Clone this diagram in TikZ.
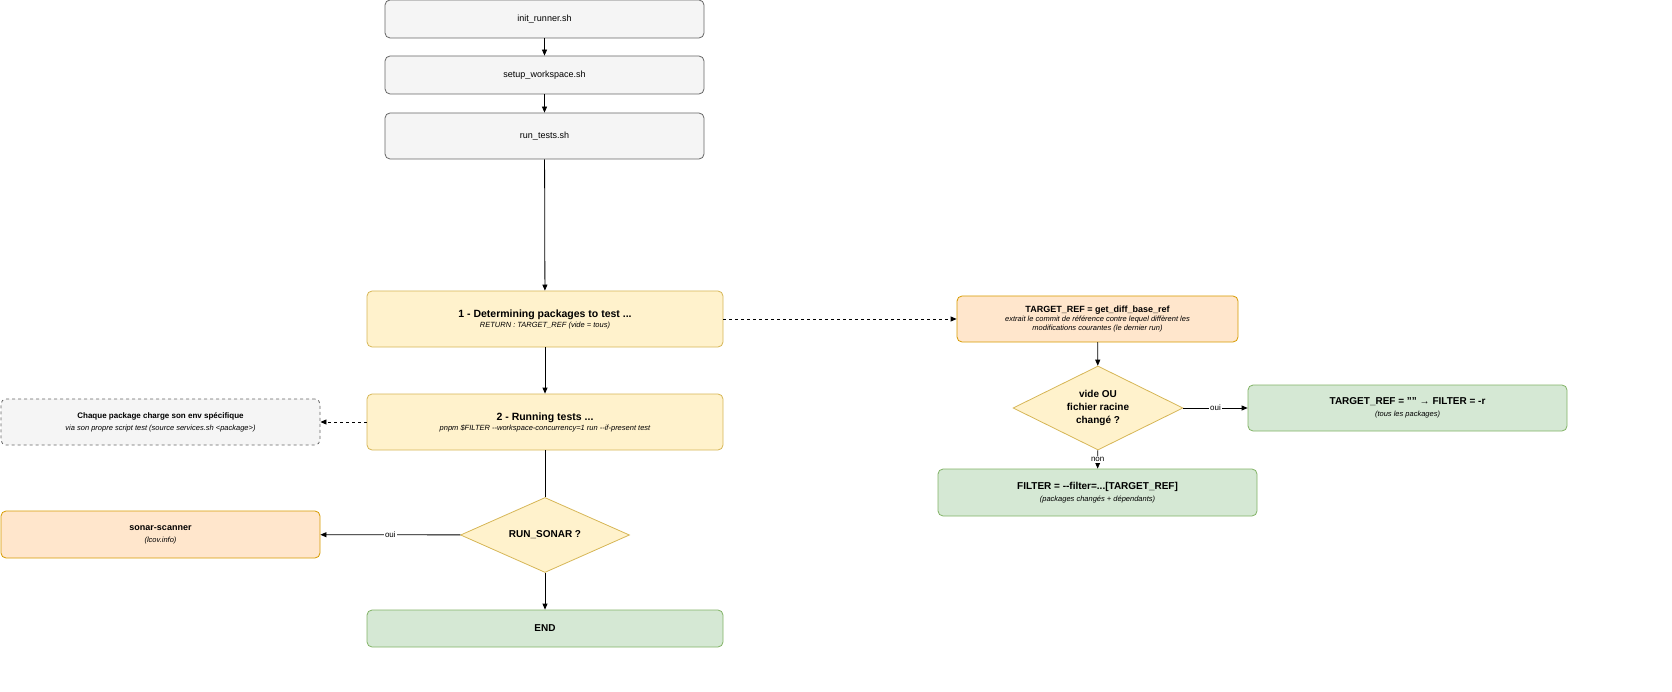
\documentclass[tikz,border=0pt]{standalone}
\usepackage{fontspec}
\setmainfont{Liberation Sans}
\usetikzlibrary{shapes.geometric,arrows.meta}
\definecolor{gF}{HTML}{F5F5F5}\definecolor{gS}{HTML}{666666}
\definecolor{yF}{HTML}{FFF2CC}\definecolor{yS}{HTML}{D6B656}
\definecolor{oF}{HTML}{FFE6CC}\definecolor{oS}{HTML}{D79B00}
\definecolor{nF}{HTML}{D5E8D4}\definecolor{nS}{HTML}{82B366}
\begin{document}
\begin{tikzpicture}[x=1pt,y=-1pt,
 box/.style={rounded corners=5pt,draw,line width=0.8pt,align=center,inner sep=0pt,font=\fontsize{9}{11}\selectfont},
 gray/.style={box,fill=gF,draw=gS},
 yel/.style={box,fill=yF,draw=yS},
 ora/.style={box,fill=oF,draw=oS},
 grn/.style={box,fill=nF,draw=nS},
 dia/.style={diamond,draw=yS,fill=yF,line width=0.8pt,aspect=2,inner sep=0pt,align=center,font=\bfseries\fontsize{10}{13}\selectfont},
 arr/.style={-{Triangle[length=6pt,width=5pt]},line width=0.8pt},
 lbl/.style={fill=white,inner sep=1pt,font=\fontsize{8}{9}\selectfont}]
\useasboundingbox (0,0) rectangle (1672,692);
\node[gray,minimum width=319pt,minimum height=38pt] (init) at (544.5,19) {init\_runner.sh};
\node[gray,minimum width=319pt,minimum height=38pt] (setup) at (544.5,75) {setup\_workspace.sh};
\node[gray,minimum width=319pt,minimum height=46pt] (tests) at (544.5,136) {run\_tests.sh};
\node[yel,minimum width=356pt,minimum height=56pt] (det) at (545,319) {{\bfseries\fontsize{10.5}{13}\selectfont 1 - Determining packages to test ...}\\[-1pt]{\itshape\fontsize{7.5}{12}\selectfont RETURN : TARGET\_REF (vide = tous)}};
\node[ora,minimum width=281pt,minimum height=46pt] (tref) at (1097.5,319) {{\bfseries TARGET\_REF = get\_diff\_base\_ref}\\[-2pt]{\itshape\fontsize{7.5}{15}\selectfont extrait le commit de référence contre lequel diffèrent les}\\[-2pt]{\itshape\fontsize{7.5}{15}\selectfont modifications courantes (le dernier run)}};
\node[dia,minimum width=170pt,minimum height=84pt] (d1) at (1098,408) {vide OU\\fichier racine\\changé ?};
\node[grn,minimum width=319pt,minimum height=46pt] (all) at (1407.5,408) {{\bfseries\fontsize{10}{12}\selectfont TARGET\_REF = "" → FILTER = -r}\\[1pt]{\itshape\fontsize{7.5}{9}\selectfont (tous les packages)}};
\node[grn,minimum width=319pt,minimum height=47pt] (filt) at (1097.5,492.5) {{\bfseries\fontsize{10}{12}\selectfont FILTER = -{}-filter=...[TARGET\_REF]}\\[1pt]{\itshape\fontsize{7.5}{9}\selectfont (packages changés + dépendants)}};
\node[yel,minimum width=356pt,minimum height=56pt] (run) at (545,422) {{\bfseries\fontsize{10.5}{13}\selectfont 2 - Running tests ...}\\[-1pt]{\itshape\fontsize{7.5}{12}\selectfont pnpm \$FILTER -{}-workspace-concurrency=1 run -{}-if-present test}};
\node[gray,dashed,minimum width=319pt,minimum height=46pt] (env) at (160.5,422) {{\bfseries\fontsize{8}{10}\selectfont Chaque package charge son env spécifique}\\[1pt]{\itshape\fontsize{7.5}{9}\selectfont via son propre script test (source services.sh <package>)}};
\node[dia,minimum width=169pt,minimum height=75pt] (d2) at (545,535) {RUN\_SONAR ?};
\node[ora,minimum width=319pt,minimum height=47pt] (sonar) at (160.5,534.5) {{\bfseries sonar-scanner}\\[1pt]{\itshape\fontsize{7.5}{9}\selectfont (lcov.info)}};
\node[grn,minimum width=356pt,minimum height=37pt] (end) at (545,628.5) {\bfseries\fontsize{10}{12}\selectfont END};
\draw[arr] (init) -- (setup);
\draw[arr] (setup) -- (tests);
\draw[arr] (tests) -- (det);
\draw[arr,dashed] (det) -- (tref);
\draw[arr] (tref) -- (d1);
\draw[arr] (d1) -- node[lbl]{oui} (all);
\draw[arr] (d1) -- node[lbl]{non} (filt);
\draw[arr] (det) -- (run);
\draw[arr,dashed] (run) -- (env);
\draw[line width=0.8pt] (run) -- (d2);
\draw[arr] (d2) -- node[lbl]{oui} (sonar);
\draw[arr] (d2) -- (end);
\end{tikzpicture}
\end{document}
